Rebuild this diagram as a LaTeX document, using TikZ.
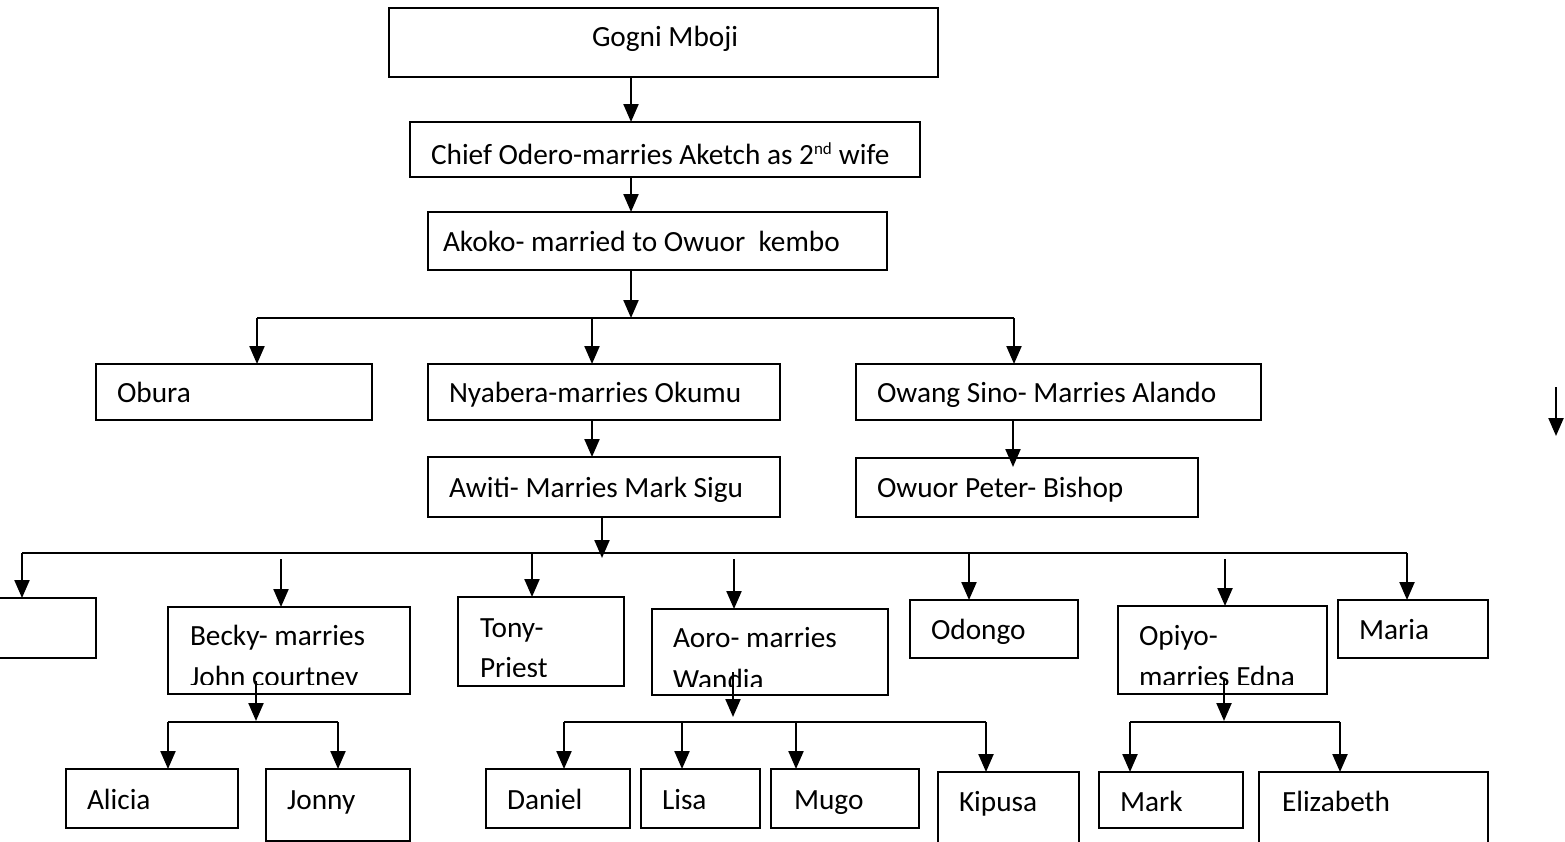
\documentclass[tikz,border=0pt]{standalone}
\usepackage{fontspec}
\setmainfont{Carlito}
\usetikzlibrary{arrows.meta}
\tikzset{
  box/.style={draw, line width=2pt, rectangle, inner sep=0pt, outer sep=0pt},
  txt/.style={inner sep=0pt, outer sep=0pt, anchor=base west, font=\fontsize{29.3}{34}\selectfont},
  ln/.style={line width=2.2pt},
  arr/.style={line width=2.2pt, -{Triangle[width=15pt,length=18pt]}},
}
\newcommand\mkbox[5]{%
  \pgfmathsetmacro\bw{#4-#2}\pgfmathsetmacro\bh{#5-#3}%
  \pgfmathsetmacro\bcx{(#2+#4)/2}\pgfmathsetmacro\bcy{(#3+#5)/2}%
  \node[box, minimum width=\bw pt, minimum height=\bh pt] (#1) at (\bcx,\bcy) {};}
\begin{document}
\begin{tikzpicture}[x=1pt,y=-1pt]
\useasboundingbox (0,0) rectangle (1565,841);
\clip (0,0) rectangle (1565,841);
% boxes
\mkbox{gogni}{389}{8}{938}{77}
\mkbox{chief}{410}{122}{920}{177}
\mkbox{akoko}{428}{212}{887}{270}
\mkbox{obura}{96}{364}{372}{420}
\mkbox{nyabera}{428}{364}{780}{420}
\mkbox{owang}{856}{364}{1261}{420}
\mkbox{awiti}{428}{457}{780}{517}
\mkbox{owuor}{856}{458}{1198}{517}
\mkbox{leftbox}{-60}{598}{96}{658}
\mkbox{becky}{168}{607}{410}{694}
\mkbox{tony}{458}{597}{624}{686}
\mkbox{aoro}{652}{609}{888}{695}
\mkbox{odongo}{910}{600}{1078}{658}
\mkbox{opiyo}{1118}{606}{1327}{694}
\mkbox{maria}{1338}{600}{1488}{658}
\mkbox{alicia}{66}{769}{238}{828}
\mkbox{jonny}{266}{769}{410}{841}
\mkbox{daniel}{486}{769}{630}{828}
\mkbox{lisa}{641}{769}{760}{828}
\mkbox{mugo}{771}{769}{919}{828}
\mkbox{kipusa}{938}{772}{1079}{850}
\mkbox{mark}{1099}{772}{1243}{828}
\mkbox{elizabeth}{1259}{772}{1488}{850}
% texts
\node[txt] (tgogni) at (592,46) {Gogni Mboji};
\node[txt] (tchief) at (431,164) {Chief Odero-marries Aketch as 2\textsuperscript{\fontsize{17}{20}\selectfont nd} wife};
\node[txt] (takoko) at (443,251) {Akoko- married to Owuor~ kembo};
\node[txt] (tobura) at (117,402) {Obura};
\node[txt] (tnyabera) at (449,402) {Nyabera-marries Okumu};
\node[txt] (towang) at (877,402) {Owang Sino- Marries Alando};
\node[txt] (tawiti) at (449,497) {Awiti- Marries Mark Sigu};
\node[txt] (towuor) at (877,497) {Owuor Peter- Bishop};
\node[txt] (tbecky) at (190,645) {Becky- marries};
\node[txt] (ttony) at (480,637) {Tony-};
\node[txt] (taoro) at (673,647) {Aoro- marries};
\node[txt] (todongo) at (931,639) {Odongo};
\node[txt] (topiyo) at (1139,645) {Opiyo-};
\node[txt] (tmaria) at (1359,639) {Maria};
\begin{scope}
\clip (168,600) rectangle (410,684);
\node[txt] (tbecky2) at (190,686) {John courtney};
\end{scope}
\begin{scope}
\clip (458,590) rectangle (624,676);
\node[txt] (ttony2) at (480,677) {Priest};
\end{scope}
\begin{scope}
\clip (652,600) rectangle (888,686);
\node[txt] (taoro2) at (673,689) {Wandia};
\end{scope}
\begin{scope}
\clip (1118,600) rectangle (1327,684);
\node[txt] (topiyo2) at (1139,686) {marries Edna};
\end{scope}
\node[txt] (talicia) at (87,809) {Alicia};
\node[txt] (tjonny) at (287,809) {Jonny};
\node[txt] (tdaniel) at (507,809) {Daniel};
\node[txt] (tlisa) at (662,809) {Lisa};
\node[txt] (tmugo) at (794,809) {Mugo};
\node[txt] (tkipusa) at (959,811) {Kipusa};
\node[txt] (tmark) at (1120,811) {Mark};
\node[txt] (telizabeth) at (1282,811) {Elizabeth};
% coordinates
\coordinate (spine) at (631,0);
\coordinate (bus1) at (0,318);
\coordinate (dObura) at (257,318);
\coordinate (dNyabera) at (592,318);
\coordinate (dOwang) at (1014,318);
\coordinate (cOwang) at (1013,0);
\coordinate (cAwiti) at (602,0);
\coordinate (awitiTip) at (602,558);
\coordinate (bus2) at (0,553);
\coordinate (dLeft) at (22,553);
\coordinate (dBecky) at (281,559);
\coordinate (dTony) at (532,553);
\coordinate (dAoro) at (734,559);
\coordinate (dOdongo) at (969,553);
\coordinate (dOpiyo) at (1225,559);
\coordinate (dMaria) at (1407,553);
\coordinate (sBecky) at (256,681);
\coordinate (eBecky) at (256,721);
\coordinate (sAoro) at (733,672);
\coordinate (eAoro) at (733,717);
\coordinate (sOpiyo) at (1224,680);
\coordinate (eOpiyo) at (1224,721);
\coordinate (dAlicia) at (168,722);
\coordinate (dJonny) at (338,722);
\coordinate (dDaniel) at (564,722);
\coordinate (dLisa) at (682,722);
\coordinate (dMugo) at (796,722);
\coordinate (dKipusa) at (986,722);
\coordinate (dMark) at (1130,722);
\coordinate (dElizabeth) at (1340,722);
\coordinate (stray1) at (1556,387);
\coordinate (stray2) at (1556,436);
% connectors, top part
\draw[arr] (spine |- gogni.south) -- (spine |- chief.north);
\draw[arr] (spine |- chief.south) -- (spine |- akoko.north);
\draw[arr] (spine |- akoko.south) -- (spine |- bus1);
\draw[ln] (dObura) -- (dOwang);
\draw[arr] (dObura) -- (dObura |- obura.north);
\draw[arr] (dNyabera) -- (dNyabera |- nyabera.north);
\draw[arr] (dOwang) -- (dOwang |- owang.north);
\draw[arr] (dNyabera |- nyabera.south) -- (dNyabera |- awiti.north);
\draw[arr, shorten >=-9pt] (cOwang |- owang.south) -- (cOwang |- owuor.north);
\draw[arr] (stray1) -- (stray2);
% second generation
\draw[arr] (cAwiti |- awiti.south) -- (awitiTip);
\draw[ln] (dLeft) -- (dMaria);
\draw[arr] (dLeft) -- (dLeft |- leftbox.north);
\draw[arr] (dBecky) -- (dBecky |- becky.north);
\draw[arr] (dTony) -- (dTony |- tony.north);
\draw[arr] (dAoro) -- (dAoro |- aoro.north);
\draw[arr] (dOdongo) -- (dOdongo |- odongo.north);
\draw[arr] (dOpiyo) -- (dOpiyo |- opiyo.north);
\draw[arr] (dMaria) -- (dMaria |- maria.north);
% third generation
\draw[arr] (sBecky) -- (eBecky);
\draw[ln] (dAlicia) -- (dJonny);
\draw[arr] (dAlicia) -- (dAlicia |- alicia.north);
\draw[arr] (dJonny) -- (dJonny |- jonny.north);
\draw[arr] (sAoro) -- (eAoro);
\draw[ln] (dDaniel) -- (dKipusa);
\draw[arr] (dDaniel) -- (dDaniel |- daniel.north);
\draw[arr] (dLisa) -- (dLisa |- lisa.north);
\draw[arr] (dMugo) -- (dMugo |- mugo.north);
\draw[arr] (dKipusa) -- (dKipusa |- kipusa.north);
\draw[arr] (sOpiyo) -- (eOpiyo);
\draw[ln] (dMark) -- (dElizabeth);
\draw[arr] (dMark) -- (dMark |- mark.north);
\draw[arr] (dElizabeth) -- (dElizabeth |- elizabeth.north);
\end{tikzpicture}
\end{document}
